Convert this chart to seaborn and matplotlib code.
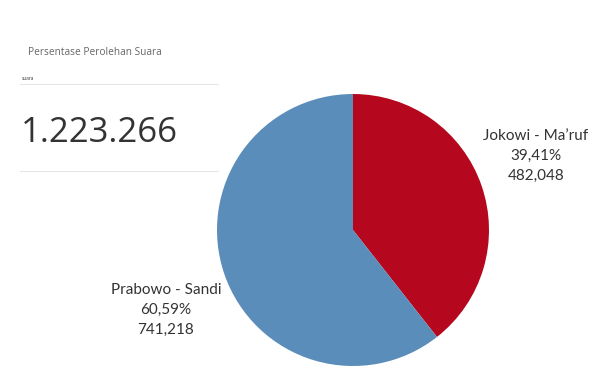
import matplotlib
matplotlib.use("Agg")
import matplotlib.pyplot as plt
import seaborn as sns

# ===== DATA =====
candidates = ["Jokowi - Ma\u2019ruf", "Prabowo - Sandi"]
percent_labels = ["39,41%", "60,59%"]
votes = [482048, 741218]
vote_labels = ["482,048", "741,218"]
total_label = "1.223.266"
colors = ["#b5081e", "#5b8dba"]

sns.set_theme(style="white")
plt.rcParams['font.family'] = ['Lato', 'DejaVu Sans']

fig = plt.figure(figsize=(6, 3.92), dpi=100)
ax = fig.add_axes([0, 0, 1, 1])

# pie, red slice starting at 12 o'clock going clockwise
ax.pie(votes, colors=colors, startangle=90, counterclock=False,
       center=(353, 392 - 230), radius=136, frame=True,
       wedgeprops=dict(linewidth=0))
ax.set_xlim(0, 600)
ax.set_ylim(0, 392)
ax.set_aspect('equal')
ax.axis('off')

# KPI block on the left
ax.text(28, 392 - 52, "Persentase Perolehan Suara", fontsize=7.3, color="#666666",
        va='center', family=['Open Sans', 'DejaVu Sans'])
ax.text(22, 392 - 78.5, "suara", fontsize=3.8, color="#444444", va='center')
ax.plot([20, 218], [392 - 84, 392 - 84], color="#e6e6e6", lw=0.8)
ax.text(21, 392 - 142, total_label, fontsize=25, color="#333333", va='baseline',
        family=['Open Sans', 'DejaVu Sans'])
ax.plot([20, 218], [392 - 171, 392 - 171], color="#e6e6e6", lw=0.8)

# slice labels
label_pos = [(536, 392 - 156), (166, 392 - 310)]
for name, pct, v, (x, y) in zip(candidates, percent_labels, vote_labels, label_pos):
    ax.text(x, y, f"{name}\n{pct}\n{v}", ha='center', va='center',
            fontsize=11, color="#333333", linespacing=1.55)

fig.savefig("out.png", dpi=100, facecolor="white")
